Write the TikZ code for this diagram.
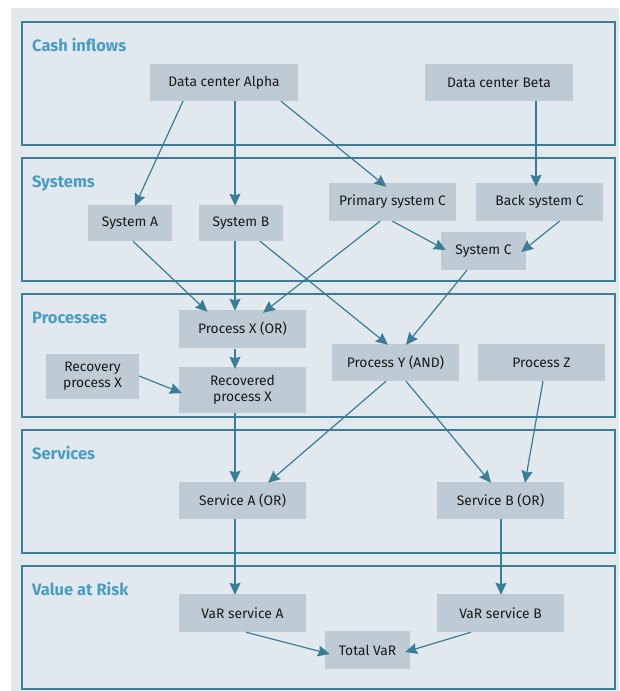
\documentclass[tikz,border=0pt]{standalone}
\usepackage{fontspec}
\setmainfont{Fira Sans}
\usetikzlibrary{arrows.meta}
\definecolor{bgc}{HTML}{E1E9EE}
\definecolor{boxc}{HTML}{BECBD4}
\definecolor{linec}{HTML}{3B7C96}
\definecolor{titlec}{HTML}{4B9DC2}
\begin{document}
\begin{tikzpicture}[x=1pt,y=-1pt,
  band/.style={draw=linec,line width=1.4pt},
  bandtitle/.style={anchor=base west,inner sep=0pt,text=titlec,font=\fontsize{16.5}{18}\selectfont\bfseries},
  box/.style={fill=boxc,inner sep=0pt,align=center,font=\fontsize{13.8}{16}\selectfont,text=black!90},
  arr/.style={draw=linec,line width=1.2pt,-{Stealth[length=12pt,width=11pt,inset=1.5pt]}}]
\useasboundingbox (0,0) rectangle (619,691);
\fill[bgc] (11,8) rectangle (619,691);
% bands
\draw[band] (22,22) rectangle (615,145);
\draw[band] (22,158) rectangle (615,281);
\draw[band] (22,294) rectangle (615,417);
\draw[band] (22,430) rectangle (615,553);
\draw[band] (22,566) rectangle (615,689);
\node[bandtitle] (t1) at (32,51) {Cash inflows};
\node[bandtitle] (t2) at (32,187) {Systems};
\node[bandtitle] (t3) at (32,323) {Processes};
\node[bandtitle] (t4) at (32,459) {Services};
\node[bandtitle] (t5) at (32,595) {Value at Risk};
% nodes
\node[box,minimum width=148pt,minimum height=37pt] (alpha) at (224,82.5) {Data center Alpha};
\node[box,minimum width=148pt,minimum height=37pt] (beta) at (499,82.5) {Data center Beta};
\node[box,minimum width=84pt,minimum height=36pt] (sysA) at (130,223) {System A};
\node[box,minimum width=84pt,minimum height=36pt] (sysB) at (241,223) {System B};
\node[box,minimum width=127pt,minimum height=38pt] (primC) at (392.5,202) {Primary system C};
\node[box,minimum width=127pt,minimum height=38pt] (backC) at (539.5,202) {Back system C};
\node[box,minimum width=85pt,minimum height=38pt] (sysC) at (483.5,251) {System C};
\node[box,minimum width=127pt,minimum height=38pt] (procX) at (242.5,329) {Process X (OR)};
\node[box,minimum width=93pt,minimum height=45pt] (recov) at (92.5,376.5) {Recovery\\process X};
\node[box,minimum width=127pt,minimum height=46pt] (recovd) at (242.5,390) {Recovered\\process X};
\node[box,minimum width=127pt,minimum height=37pt] (procY) at (395.5,362.5) {Process Y (AND)};
\node[box,minimum width=127pt,minimum height=37pt] (procZ) at (541.5,362.5) {Process Z};
\node[box,minimum width=127pt,minimum height=37pt] (servA) at (242.5,500.5) {Service A (OR)};
\node[box,minimum width=127pt,minimum height=37pt] (servB) at (500.5,500.5) {Service B (OR)};
\node[box,minimum width=127pt,minimum height=38pt] (varA) at (242.5,613) {VaR service A};
\node[box,minimum width=127pt,minimum height=38pt] (varB) at (500.5,613) {VaR service B};
\node[box,minimum width=85pt,minimum height=38pt] (total) at (367.5,650) {Total VaR};
% connectors
\draw[arr] ([xshift=-41pt]alpha.south) -- ([xshift=5pt,yshift=-1pt]sysA.north);
\draw[arr] ([xshift=11pt]alpha.south) -- ([xshift=-6pt,yshift=-1pt]sysB.north);
\draw[arr] ([xshift=57pt]alpha.south) -- ([xshift=-6pt,yshift=-4pt]primC.north);
\draw[arr] ([xshift=37pt]beta.south) -- ([xshift=-3.5pt,yshift=-4pt]backC.north);
\draw[arr] (primC.south) -- ([xshift=5pt,yshift=1pt]sysC.west);
\draw[arr] ([xshift=20pt]backC.south) -- ([xshift=-5pt,yshift=-1pt]sysC.east);
\draw[arr] ([xshift=3pt]sysA.south) -- ([xshift=-35pt,yshift=-2pt]procX.north);
\draw[arr] ([xshift=-6pt]sysB.south) -- ([xshift=-7.5pt,yshift=-1pt]procX.north);
\draw[arr] ([xshift=-12.5pt]primC.south) -- ([xshift=20.5pt,yshift=-3pt]procX.north);
\draw[arr] ([xshift=19pt]sysB.south) -- ([xshift=-7.5pt,yshift=-1pt]procY.north);
\draw[arr] ([xshift=-16.5pt]sysC.south) -- ([xshift=10.5pt,yshift=-1pt]procY.north);
\draw[arr] ([xshift=-7.5pt,yshift=-1pt]procX.south) -- ([xshift=-7.5pt,yshift=-2pt]recovd.north);
\draw[arr] ([yshift=0.5pt]recov.east) -- ([xshift=3pt,yshift=-3pt]recovd.west);
\draw[arr] ([xshift=-7.5pt]recovd.south) -- ([xshift=-7.5pt,yshift=-1pt]servA.north);
\draw[arr] ([xshift=-9.5pt]procY.south) -- ([xshift=25.5pt,yshift=-1pt]servA.north);
\draw[arr] ([xshift=10.5pt]procY.south) -- ([xshift=-9.5pt,yshift=-1pt]servB.north);
\draw[arr] ([xshift=1.5pt]procZ.south) -- ([xshift=24.5pt,yshift=-1pt]servB.north);
\draw[arr] ([xshift=-7.5pt]servA.south) -- ([xshift=-7.5pt,yshift=-1pt]varA.north);
\draw[arr] ([xshift=0.5pt]servB.south) -- ([xshift=0.5pt,yshift=-1pt]varB.north);
\draw[arr] ([xshift=3.5pt]varA.south) -- ([xshift=5pt,yshift=-4pt]total.west);
\draw[arr] ([xshift=-29.5pt]varB.south) -- ([xshift=-5pt,yshift=-2pt]total.east);
\end{tikzpicture}
\end{document}
